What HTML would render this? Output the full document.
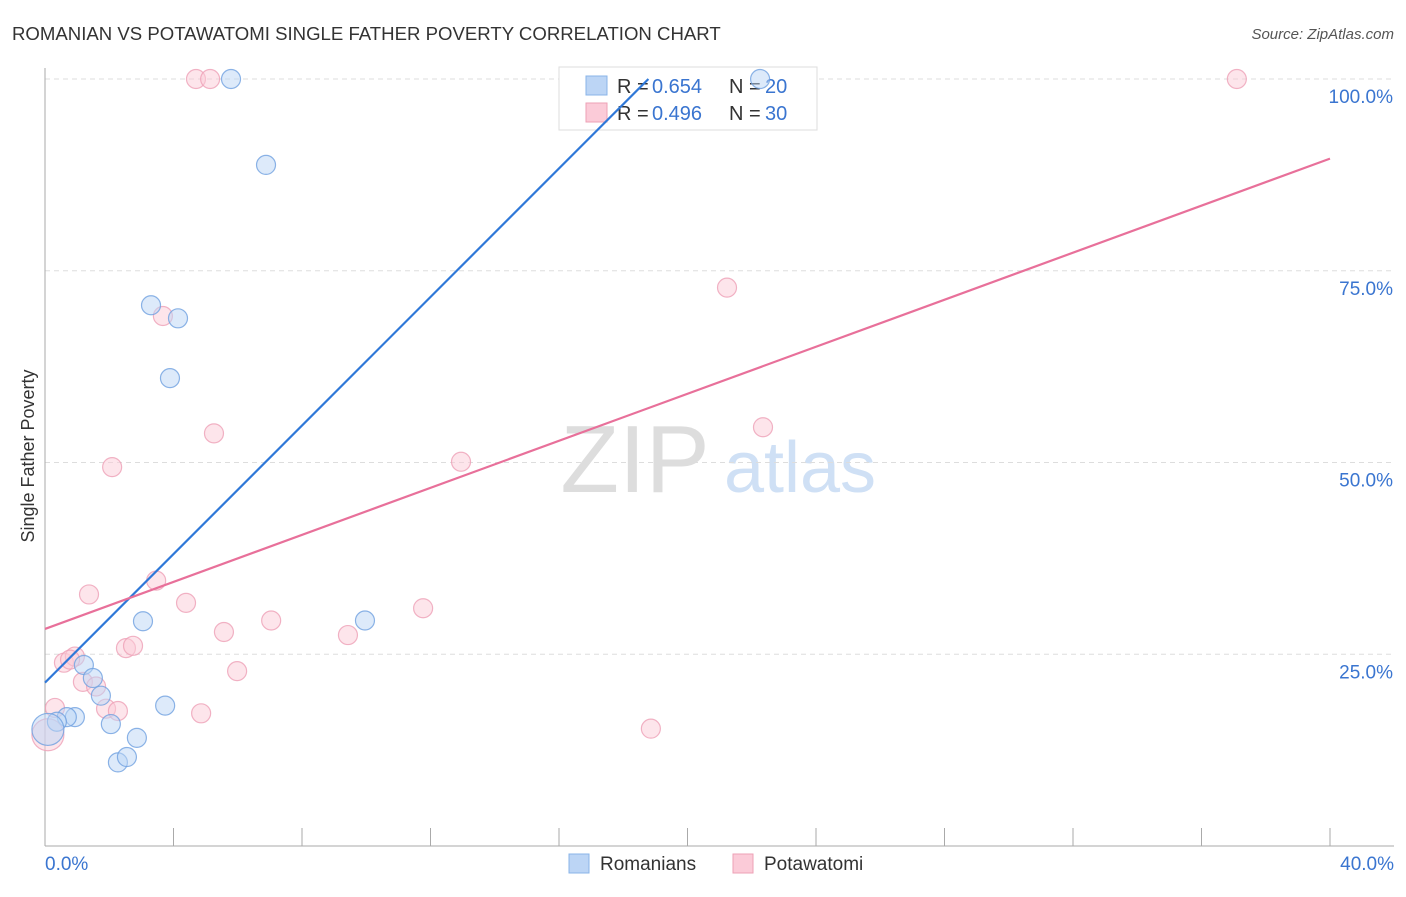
<!DOCTYPE html>
<html><head><meta charset="utf-8"><style>
body{margin:0;background:#fff;font-family:"Liberation Sans",sans-serif;}
svg text{font-family:"Liberation Sans",sans-serif;}
</style></head><body>
<svg id="c" width="1406" height="892" xmlns="http://www.w3.org/2000/svg">
<text x="12" y="40" font-size="18.6" fill="#333">ROMANIAN VS POTAWATOMI SINGLE FATHER POVERTY CORRELATION CHART</text>
<text x="1394" y="39" font-size="15" fill="#555" font-style="italic" text-anchor="end">Source: ZipAtlas.com</text>
<text x="34" y="456" font-size="18" fill="#333" text-anchor="middle" transform="rotate(-90 34 456)">Single Father Poverty</text>
<g><text x="635" y="492" font-size="96" fill="#ddd" font-family="Liberation Serif" text-anchor="middle">ZIP</text><text x="800" y="492" font-size="72" fill="#cfe0f5" text-anchor="middle">atlas</text></g>
<g id="grid"></g>
<g>
<rect x="559" y="67" width="258" height="63" fill="#fff" stroke="#ddd"/>
<rect x="586" y="76" width="21" height="19" fill="#bcd5f5" stroke="#8ab4e8"/>
<rect x="586" y="103" width="21" height="19" fill="#fbcbd8" stroke="#eea0b6"/>
<text x="617" y="93" font-size="20" fill="#333">R =</text><text x="652" y="93" font-size="20" fill="#3a75d0">0.654</text>
<text x="729" y="93" font-size="20" fill="#333">N =</text><text x="765" y="93" font-size="20" fill="#3a75d0">20</text>
<text x="617" y="120" font-size="20" fill="#333">R =</text><text x="652" y="120" font-size="20" fill="#3a75d0">0.496</text>
<text x="729" y="120" font-size="20" fill="#333">N =</text><text x="765" y="120" font-size="20" fill="#3a75d0">30</text>
</g>
<g id="marks"></g>
<g>
<rect x="569" y="854" width="20" height="19" fill="#bcd5f5" stroke="#8ab4e8"/>
<text x="600" y="870" font-size="19" fill="#333">Romanians</text>
<rect x="733" y="854" width="20" height="19" fill="#fbcbd8" stroke="#eea0b6"/>
<text x="764" y="870" font-size="19" fill="#333">Potawatomi</text>
</g>
</svg>
<script>
const blueX=[5.79,22.26,6.88,3.30,4.14,3.89,3.05,9.96,1.21,1.49,1.74,3.74,0.93,0.68,0.37,2.05,2.86,2.27,2.55,0.09];
const blueY=[100,100,88.8,70.5,68.8,61.0,29.3,29.4,23.6,21.9,19.6,18.3,16.8,16.8,16.2,15.9,14.1,10.9,11.6,15.2];
const pinkX=[4.70,5.14,37.1,21.23,3.67,5.26,22.35,12.95,2.09,3.46,1.37,4.39,11.77,7.04,5.57,9.43,2.52,2.74,0.59,0.93,5.98,1.18,1.59,1.90,2.27,4.86,18.86,0.31,0.09,0.78];
const pinkY=[100,100,100,72.8,69.1,53.8,54.6,50.1,49.4,34.6,32.8,31.7,31.0,29.4,27.9,27.5,25.8,26.1,23.9,24.7,22.8,21.4,20.8,17.9,17.6,17.3,15.3,18.0,14.5,24.3];
const blueTrend=[21.3,4.19];
const pinkTrend=[28.3,1.533];
const yTicks=[25,50,75,100];
const xTickLabels=["0.0%","40.0%"];
const NS="http://www.w3.org/2000/svg";
const X=v=>45+v/40*1285, Y=v=>846-v*7.67;
const grid=document.getElementById('grid'), marks=document.getElementById('marks');
function mk(tag,at,parent){const e=document.createElementNS(NS,tag);for(const k in at)e.setAttribute(k,at[k]);parent.appendChild(e);return e;}
yTicks.forEach(t=>{
 const l=mk('line',{x1:45,x2:1394,y1:Y(t),y2:Y(t),stroke:'#ddd','stroke-dasharray':'5,4'},grid);
 
 
 const tx=mk('text',{x:1393,y:Y(t)+24,'font-size':19,fill:'#3a75d0','text-anchor':'end'},grid);
 tx.textContent=t.toFixed(1)+'%';
 
 
});
const ax=mk('line',{x1:45,x2:45,y1:68,y2:846,stroke:'#aaa'},grid);


const bx=mk('line',{x1:45,x2:1394,y1:846,y2:846,stroke:'#aaa'},grid);


for(let i=1;i<=10;i++){const t=mk('line',{x1:X(i*4),x2:X(i*4),y1:828,y2:846,stroke:'#aaa'},grid);
 
 }
[[0,xTickLabels[0],'start',45],[40,xTickLabels[1],'end',1394]].forEach(a=>{
 const t=mk('text',{x:a[3],y:870,'font-size':19,fill:'#3a75d0','text-anchor':a[2]},grid);t.textContent=a[1];
 
 });
function pts(xs,ys,fill,stroke,name){xs.forEach((x,i)=>{
 const r=(i===xs.length-1&&name==='romanian-point')||(name==='potawatomi-point'&&i===28)?16:9.5;
 const c=mk('circle',{cx:X(x),cy:Y(ys[i]),r:r,fill:fill,'fill-opacity':0.5,stroke:stroke,'stroke-width':1.2,'stroke-opacity':0.8},marks);
 
 });}
pts(pinkX,pinkY,'#fbcbd8','#eea0b6','potawatomi-point');
pts(blueX,blueY,'#bcd5f5','#6fa0e0','romanian-point');
function trend(tr,col,name){let x2=40;if(tr[0]+tr[1]*40>100)x2=(100-tr[0])/tr[1];
 const l=mk('line',{x1:X(0),y1:Y(tr[0]),x2:X(x2),y2:Y(tr[0]+tr[1]*x2),stroke:col,'stroke-width':2.2},marks);
 
 }
trend(blueTrend,'#2f78d8','romanian-trendline');
trend(pinkTrend,'#e8709a','potawatomi-trendline');
</script>
</body></html>
